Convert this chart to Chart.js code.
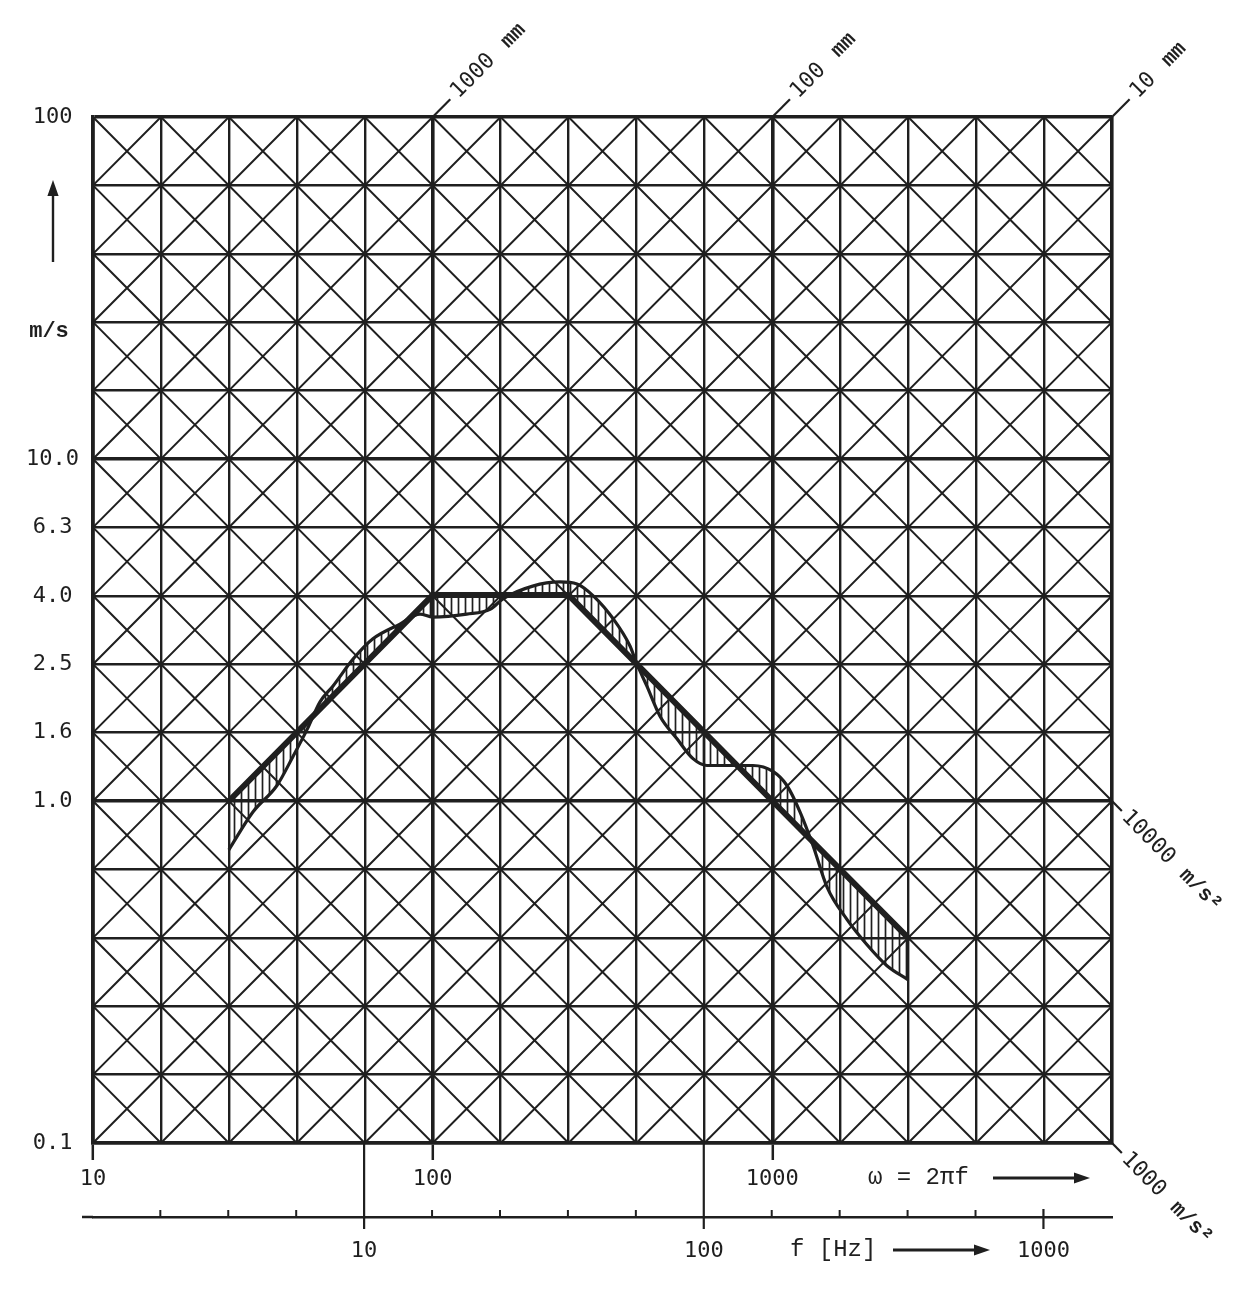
<!DOCTYPE html>
<html><head><meta charset="utf-8">
<script src="https://cdn.jsdelivr.net/npm/chart.js@4.4.1/dist/chart.umd.min.js"></script>
<style>html,body{margin:0;padding:0;background:#fff}canvas{display:block}</style>
</head><body>
<canvas id="c" width="1259" height="1291"></canvas>
<script>
// ---- tick values / labels ----
const omegaTicks = [10, 15.85, 25.12, 39.81, 63.10, 100, 158.5, 251.2, 398.1, 631.0, 1000, 1585, 2512, 3981, 6310, 10000];
const omegaTickLabels = ['10','','','','','100','','','','','1000','','','','',''];
const velocityTicks = [0.1, 0.1585, 0.2512, 0.3981, 0.6310, 1, 1.585, 2.512, 3.981, 6.310, 10, 15.85, 25.12, 39.81, 63.10, 100];
const velocityTickLabels = ['0.1','','','','','1.0','1.6','2.5','4.0','6.3','10.0','','','','','100'];
const freqTicks = [2.512, 3.981, 6.310, 10, 15.85, 25.12, 39.81, 63.10, 100, 158.5, 251.2, 398.1, 631.0, 1000];
const freqTickLabels = ['','','','10','','','','','100','','','','','1000'];
// labelled diagonal lines
const displacementValues = [1, 0.1, 0.01];          // m
const displacementLabels = ['1000', '100', '10'];   // mm
const accelerationValues = [10000, 1000];           // m/s^2
const accelerationLabels = ['10000', '1000'];
// ---- series ----
const envelopeOmega = [25.12, 100, 251.2, 1000, 2512];
const envelopeVelocity = [1.0, 4.0, 4.0, 1.0, 0.398];
const measuredOmega = [25.12, 29.6, 34.8, 38.8, 42.7, 46.6, 50.9, 58.3, 66.7, 80.1, 91.8, 100, 126, 148, 161, 197, 237, 266, 297, 340, 381, 399, 427, 467, 524, 584, 642, 735, 877, 1004, 1104, 1206, 1318, 1449, 1660, 1900, 2175, 2512];
const measuredVelocity = [0.72, 0.93, 1.11, 1.35, 1.62, 1.95, 2.17, 2.60, 2.98, 3.29, 3.52, 3.45, 3.52, 3.64, 3.90, 4.25, 4.37, 4.31, 3.98, 3.41, 2.84, 2.52, 2.17, 1.77, 1.52, 1.33, 1.27, 1.27, 1.27, 1.22, 1.11, 0.93, 0.74, 0.56, 0.45, 0.38, 0.33, 0.30];

const INK = '#1f1f1f';
const NUMFONT = 'DejaVu Sans Mono';
const TXTFONT = 'Liberation Mono';

// hatch pattern (vertical lines)
const pc = document.createElement('canvas'); pc.width = 7; pc.height = 7;
const pctx = pc.getContext('2d'); pctx.strokeStyle = INK; pctx.lineWidth = 1.7;
pctx.beginPath(); pctx.moveTo(3.5, 0); pctx.lineTo(3.5, 7); pctx.stroke();
const hatch = pctx.createPattern(pc, 'repeat');

const isDecade = v => Math.abs(Math.log10(v) - Math.round(Math.log10(v))) < 1e-3;

function arrow(ctx, x0, y0, x1, y1, head) {
  const a = Math.atan2(y1 - y0, x1 - x0);
  ctx.beginPath(); ctx.moveTo(x0, y0); ctx.lineTo(x1 - Math.cos(a) * head * 0.8, y1 - Math.sin(a) * head * 0.8); ctx.stroke();
  ctx.beginPath(); ctx.moveTo(x1, y1);
  ctx.lineTo(x1 - head * Math.cos(a) + head * 0.35 * Math.sin(a), y1 - head * Math.sin(a) - head * 0.35 * Math.cos(a));
  ctx.lineTo(x1 - head * Math.cos(a) - head * 0.35 * Math.sin(a), y1 - head * Math.sin(a) + head * 0.35 * Math.cos(a));
  ctx.closePath(); ctx.fill();
}

const decor = {
  id: 'decor',
  beforeDatasetsDraw(chart) {
    const ctx = chart.ctx, ca = chart.chartArea, xs = chart.scales.x, ys = chart.scales.y;
    const P = (w, v) => [xs.getPixelForValue(w), ys.getPixelForValue(v)];
    ctx.save();
    ctx.beginPath(); ctx.rect(ca.left, ca.top, ca.right - ca.left, ca.bottom - ca.top); ctx.clip();
    ctx.strokeStyle = INK; ctx.lineWidth = 2;
    const lx0 = Math.log10(xs.min), lx1 = Math.log10(xs.max), ly0 = Math.log10(ys.min), ly1 = Math.log10(ys.max);
    ctx.beginPath();
    for (let k = -25; k <= 5; k++) {           // constant displacement lines
      const c = k * 0.2, a = Math.max(lx0, ly0 - c), b = Math.min(lx1, ly1 - c);
      if (b <= a) continue;
      const p = P(10 ** a, 10 ** (a + c)), q = P(10 ** b, 10 ** (b + c));
      ctx.moveTo(p[0], p[1]); ctx.lineTo(q[0], q[1]);
    }
    for (let k = 0; k <= 30; k++) {            // constant acceleration lines
      const s = k * 0.2, a = Math.max(lx0, s - ly1), b = Math.min(lx1, s - ly0);
      if (b <= a) continue;
      const p = P(10 ** a, 10 ** (s - a)), q = P(10 ** b, 10 ** (s - b));
      ctx.moveTo(p[0], p[1]); ctx.lineTo(q[0], q[1]);
    }
    ctx.stroke();
    ctx.restore();
  },
  afterDraw(chart) {
    const ctx = chart.ctx, ca = chart.chartArea, xs = chart.scales.x, ys = chart.scales.y, fs = chart.scales.f;
    const P = (w, v) => [xs.getPixelForValue(w), ys.getPixelForValue(v)];
    ctx.save();
    ctx.strokeStyle = INK; ctx.fillStyle = INK; ctx.lineCap = 'butt';
    // displacement labels (top edge)
    displacementValues.forEach((d, i) => {
      const w = ys.max / d, v = ys.max;
      const p0 = P(w, v), p1 = P(w * 1.2589, v * 1.2589);
      let ux = p1[0] - p0[0], uy = p1[1] - p0[1]; const L = Math.hypot(ux, uy); ux /= L; uy /= L;
      ctx.lineWidth = 2.2; ctx.beginPath(); ctx.moveTo(p0[0], p0[1]); ctx.lineTo(p0[0] + ux * 25, p0[1] + uy * 25); ctx.stroke();
      ctx.save(); ctx.translate(p0[0] + ux * 31, p0[1] + uy * 31); ctx.rotate(Math.atan2(uy, ux));
      ctx.font = '22px "' + NUMFONT + '"'; ctx.textBaseline = 'middle'; ctx.textAlign = 'left';
      ctx.fillText(displacementLabels[i], 0, 0);
      const tw = ctx.measureText(displacementLabels[i]).width;
      ctx.font = 'bold 21px "' + TXTFONT + '"';
      ctx.fillText('mm', tw + 18, 0);
      ctx.restore();
    });
    // acceleration labels (right edge)
    accelerationValues.forEach((a, i) => {
      const w = xs.max, v = a / w;
      const p0 = P(w, v), p1 = P(w * 1.2589, v / 1.2589);
      let ux = p1[0] - p0[0], uy = p1[1] - p0[1]; const L = Math.hypot(ux, uy); ux /= L; uy /= L;
      ctx.lineWidth = 2.2; ctx.beginPath(); ctx.moveTo(p0[0], p0[1]); ctx.lineTo(p0[0] + ux * 14, p0[1] + uy * 14); ctx.stroke();
      ctx.save(); ctx.translate(p0[0] + ux * 18, p0[1] + uy * 18); ctx.rotate(Math.atan2(uy, ux));
      ctx.font = '22px "' + NUMFONT + '"'; ctx.textBaseline = 'middle'; ctx.textAlign = 'left';
      ctx.fillText(accelerationLabels[i], 0, 0);
      const tw = ctx.measureText(accelerationLabels[i]).width;
      ctx.font = 'bold 21px "' + TXTFONT + '"';
      ctx.fillText('m/s²', tw + 16, 0);
      ctx.restore();
    });
    // y axis unit and arrow
    ctx.font = 'bold 22px "' + TXTFONT + '"'; ctx.textAlign = 'center'; ctx.textBaseline = 'middle';
    ctx.fillText('m/s', 49, 331);
    ctx.lineWidth = 2.4; arrow(ctx, 53, 262, 53, 180, 16);
    // omega axis title
    ctx.font = '24px "' + TXTFONT + '"'; ctx.textAlign = 'left';
    ctx.fillText('ω = 2πf', 868, 1178);
    ctx.lineWidth = 2.8; arrow(ctx, 993, 1178, 1090, 1178, 16);
    // frequency axis
    const fy = fs.top;
    ctx.lineWidth = 2.5; ctx.beginPath(); ctx.moveTo(82, fy); ctx.lineTo(ca.left, fy); ctx.stroke();
    freqTicks.forEach(f => {
      const x = fs.getPixelForValue(f);
      ctx.beginPath();
      if (isDecade(f) && f < 1000) { ctx.lineWidth = 2.2; ctx.moveTo(x, ca.bottom); ctx.lineTo(x, fy + 12); }
      else if (isDecade(f)) { ctx.lineWidth = 2.2; ctx.moveTo(x, fy - 8); ctx.lineTo(x, fy + 12); }
      else { ctx.lineWidth = 2; ctx.moveTo(x, fy); ctx.lineTo(x, fy - 7); }
      ctx.stroke();
    });
    ctx.font = '24px "' + TXTFONT + '"'; ctx.textAlign = 'left'; ctx.textBaseline = 'middle';
    ctx.fillText('f [Hz]', 790, 1250);
    ctx.lineWidth = 2.8; arrow(ctx, 893, 1250, 990, 1250, 16);
    ctx.restore();
  }
};

new Chart(document.getElementById('c'), {
  type: 'scatter',
  data: {
    datasets: [
      {
        label: 'envelope',
        data: envelopeOmega.map((w, i) => ({ x: w, y: envelopeVelocity[i] })),
        showLine: true, borderColor: INK, borderWidth: 6, pointRadius: 0, tension: 0, fill: false,
        borderCapStyle: 'round', borderJoinStyle: 'round'
      },
      {
        label: 'measured',
        data: measuredOmega.map((w, i) => ({ x: w, y: measuredVelocity[i] })),
        showLine: true, borderColor: INK, borderWidth: 3.2, pointRadius: 0,
        cubicInterpolationMode: 'monotone',
        backgroundColor: hatch,
        fill: { target: 0, above: hatch, below: hatch }
      }
    ]
  },
  options: {
    responsive: false, animation: false, devicePixelRatio: 1,
    layout: { padding: { left: 27, right: 147, top: 117, bottom: 24 } },
    plugins: { legend: { display: false }, tooltip: { enabled: false }, title: { display: false } },
    scales: {
      x: {
        type: 'logarithmic', position: 'bottom', weight: 0, min: 10, max: 10000,
        afterBuildTicks: s => { s.ticks = omegaTicks.map(v => ({ value: v })); },
        afterFit: s => { s.height = 74; },
        ticks: { autoSkip: false, maxRotation: 0, minRotation: 0, padding: 6, color: INK,
                 font: { family: NUMFONT, size: 22 }, callback: (v, i) => omegaTickLabels[i] },
        grid: { color: INK, lineWidth: c => (c.tick && isDecade(c.tick.value)) ? 3.6 : 2.4,
                drawTicks: true, tickLength: 17, tickWidth: 2.5,
                tickColor: c => (c.tick && isDecade(c.tick.value) && c.tick.value < 10000) ? INK : 'rgba(0,0,0,0)' },
        border: { display: true, color: INK, width: 3.6 }
      },
      f: {
        type: 'logarithmic', position: 'bottom', weight: 1, min: 10 / (2 * Math.PI), max: 10000 / (2 * Math.PI),
        afterBuildTicks: s => { s.ticks = freqTicks.map(v => ({ value: v })); },
        afterFit: s => { s.height = 50; },
        ticks: { autoSkip: false, maxRotation: 0, minRotation: 0, padding: 21, color: INK,
                 font: { family: NUMFONT, size: 22 }, callback: (v, i) => freqTickLabels[i] },
        grid: { drawOnChartArea: false, drawTicks: false },
        border: { display: true, color: INK, width: 2.5 }
      },
      y: {
        type: 'logarithmic', position: 'left', min: 0.1, max: 100,
        afterBuildTicks: s => { s.ticks = velocityTicks.map(v => ({ value: v })); },
        afterFit: s => { s.width = 66; },
        ticks: { autoSkip: false, crossAlign: 'center', padding: 14, color: INK,
                 font: { family: NUMFONT, size: 22 }, callback: (v, i) => velocityTickLabels[i] },
        grid: { color: INK, lineWidth: c => (c.tick && isDecade(c.tick.value)) ? 3.6 : 2.6, drawTicks: false },
        border: { display: true, color: INK, width: 3.6 }
      }
    }
  },
  plugins: [decor]
});
</script>
</body></html>
